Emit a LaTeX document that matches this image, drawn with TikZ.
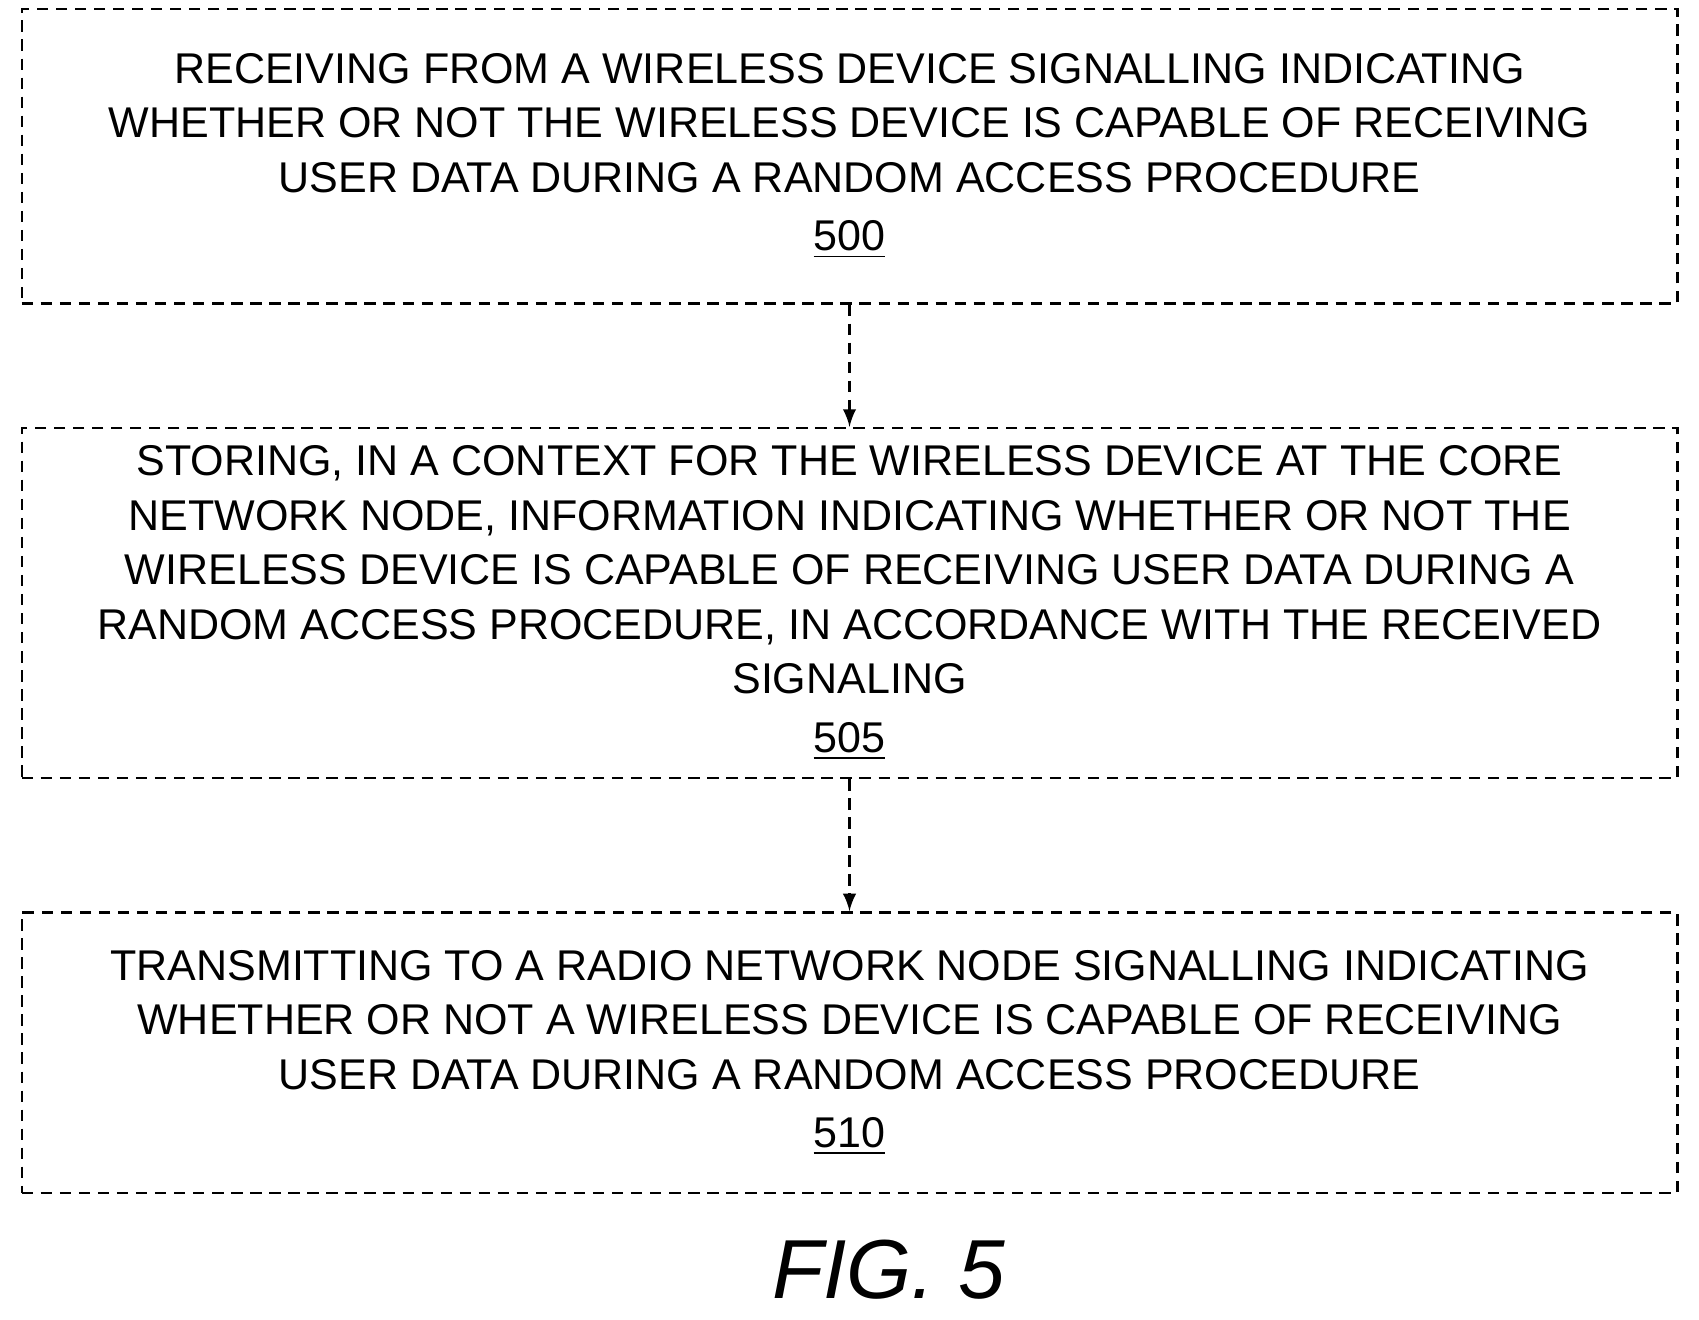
\documentclass[tikz,border=0pt]{standalone}
\usepackage{fontspec}
\setmainfont{Liberation Sans}
\usetikzlibrary{positioning}
\tikzset{
	stepbox/.style={draw, densely dashed, line width=.6pt, minimum width=15.28cm, align=center, font=\fontsize{11.3}{14.3}\selectfont},
	flow/.style={draw, densely dashed, ->, line width=.6pt},
	>=latex
}
\begin{document}
\begin{tikzpicture}[x=1cm,y=-1cm]
	\useasboundingbox (0,0) rectangle (15.68,12.18);
	\node [stepbox, minimum height=2.72cm] (recv) at (7.84,1.44) {RECEIVING FROM A WIRELESS DEVICE SIGNALLING INDICATING\\ WHETHER OR NOT THE WIRELESS DEVICE IS CAPABLE OF RECEIVING\\ USER DATA DURING A RANDOM ACCESS PROCEDURE\\[1pt] \underline{500}};
	\node [stepbox, minimum height=3.23cm] (store) at (7.84,5.565) {STORING, IN A CONTEXT FOR THE WIRELESS DEVICE AT THE CORE\\ NETWORK NODE, INFORMATION INDICATING WHETHER OR NOT THE\\ WIRELESS DEVICE IS CAPABLE OF RECEIVING USER DATA DURING A\\ RANDOM ACCESS PROCEDURE, IN ACCORDANCE WITH THE RECEIVED\\ SIGNALING\\[1pt] \underline{505}};
	\node [stepbox, minimum height=2.59cm] (trans) at (7.84,9.715) {TRANSMITTING TO A RADIO NETWORK NODE SIGNALLING INDICATING\\ WHETHER OR NOT A WIRELESS DEVICE IS CAPABLE OF RECEIVING\\ USER DATA DURING A RANDOM ACCESS PROCEDURE\\[1pt] \underline{510}};
	\node [font=\fontsize{22}{22}\selectfont\itshape] (fig) at (8.2,11.72) {FIG. 5};
	\path [flow] (recv) edge (store);
	\path [flow] (store) edge (trans);
\end{tikzpicture}
\end{document}
